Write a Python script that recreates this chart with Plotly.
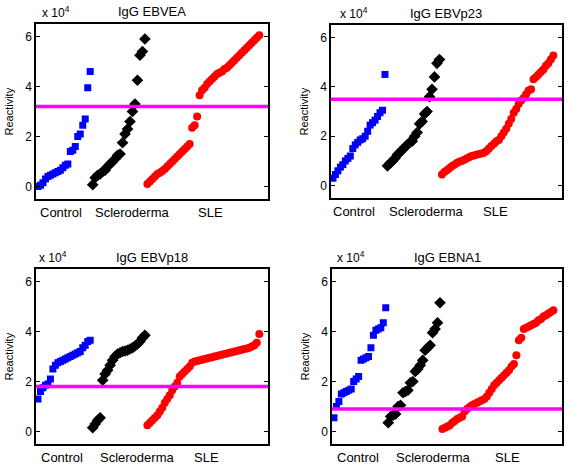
import plotly.graph_objects as go

# ---- data (values in units of 10^4) ----
titles = ["IgG EBVEA", "IgG EBVp23", "IgG EBVp18", "IgG EBNA1"]
groups = ["Control", "Scleroderma", "SLE"]
y_ticks = [0, 2, 4, 6]

control_ebvea = [0.0, 0.05, 0.15, 0.3, 0.4, 0.45, 0.5, 0.55, 0.6, 0.65, 0.75, 0.85, 0.9,
                 1.4, 1.45, 1.6, 2.0, 2.1, 2.45, 2.7, 3.95, 4.6]
sclero_ebvea = [0.07, 0.35, 0.45, 0.5, 0.6, 0.65, 0.8, 0.9, 1.0, 1.1, 1.25, 1.3, 1.75,
                2.1, 2.3, 2.6, 3.0, 3.3, 4.25, 5.25, 5.4, 5.9]
sle_ebvea = [0.1, 0.2, 0.3, 0.4, 0.5, 0.55, 0.62, 0.7, 0.8, 0.9, 1.0, 1.1, 1.2, 1.3, 1.4,
             1.5, 1.6, 1.7, 2.35, 2.45, 2.8, 3.65, 3.85, 3.95, 4.1, 4.2, 4.3, 4.4, 4.5,
             4.55, 4.6, 4.7, 4.75, 4.85, 4.95, 5.05, 5.15, 5.25, 5.35, 5.45, 5.55, 5.65,
             5.75, 5.85, 5.95, 6.05]

control_ebvp23 = [0.3, 0.45, 0.6, 0.75, 0.85, 1.0, 1.1, 1.2, 1.5, 1.65, 1.75, 1.85, 1.9,
                  2.0, 2.2, 2.45, 2.55, 2.65, 2.8, 2.95, 3.05, 4.5]
sclero_ebvp23 = [0.8, 0.9, 1.0, 1.1, 1.25, 1.35, 1.45, 1.55, 1.65, 1.75, 1.8, 2.0, 2.15,
                 2.5, 2.6, 2.9, 3.0, 3.6, 3.9, 4.4, 4.95, 5.1]
sle_ebvp23 = [0.45, 0.55, 0.62, 0.7, 0.78, 0.85, 0.92, 0.97, 1.0, 1.05, 1.1, 1.15, 1.2,
              1.22, 1.25, 1.28, 1.3, 1.33, 1.4, 1.5, 1.6, 1.7, 1.8, 1.85, 2.0, 2.15, 2.3,
              2.5, 2.7, 2.95, 3.1, 3.3, 3.45, 3.55, 3.7, 3.85, 3.9, 4.3, 4.4, 4.5, 4.6,
              4.7, 4.85, 4.95, 5.1, 5.27]

control_ebvp18 = [1.3, 1.6, 1.75, 1.85, 1.9, 2.1, 2.5, 2.65, 2.75, 2.8, 2.85, 2.9, 2.95,
                  3.0, 3.05, 3.1, 3.15, 3.2, 3.35, 3.45, 3.6, 3.65]
sclero_ebvp18 = [0.15, 0.3, 0.45, 0.55, 2.05, 2.3, 2.45, 2.65, 2.85, 3.0, 3.1, 3.15, 3.2,
                 3.22, 3.25, 3.3, 3.35, 3.42, 3.5, 3.6, 3.75, 3.85]
sle_ebvp18 = [0.25, 0.35, 0.45, 0.55, 0.65, 0.8, 0.95, 1.15, 1.3, 1.45, 1.65, 1.8, 1.95,
              2.2, 2.3, 2.4, 2.5, 2.6, 2.75, 2.8, 2.82, 2.85, 2.87, 2.9, 2.92, 2.95, 2.97,
              3.0, 3.02, 3.05, 3.07, 3.1, 3.12, 3.15, 3.17, 3.2, 3.22, 3.25, 3.27, 3.3,
              3.32, 3.35, 3.4, 3.45, 3.55, 3.9]

control_ebna1 = [0.55, 1.0, 1.2, 1.5, 1.55, 1.6, 1.65, 1.7, 2.0, 2.1, 2.2, 2.85, 2.9, 2.95,
                 3.0, 3.35, 3.85, 4.05, 4.1, 4.15, 4.35, 4.95]
sclero_ebna1 = [0.35, 0.6, 0.65, 0.7, 1.0, 1.05, 1.55, 1.6, 1.65, 1.95, 2.0, 2.4, 2.5,
                2.65, 2.85, 3.25, 3.35, 3.45, 3.95, 4.1, 4.35, 5.15]
sle_ebna1 = [0.1, 0.15, 0.2, 0.25, 0.35, 0.42, 0.5, 0.55, 0.6, 0.8, 0.9, 0.98, 1.05, 1.1,
             1.15, 1.2, 1.25, 1.3, 1.4, 1.55, 1.7, 1.85, 1.95, 2.05, 2.15, 2.25, 2.35,
             2.45, 2.6, 2.7, 3.05, 3.65, 3.75, 4.1, 4.15, 4.2, 4.25, 4.3, 4.35, 4.45,
             4.5, 4.6, 4.65, 4.72, 4.78, 4.85]

thresholds = [3.2, 3.5, 1.8, 0.9]

panels = [
    (control_ebvea, sclero_ebvea, sle_ebvea),
    (control_ebvp23, sclero_ebvp23, sle_ebvp23),
    (control_ebvp18, sclero_ebvp18, sle_ebvp18),
    (control_ebna1, sclero_ebna1, sle_ebna1),
]

# ---- layout geometry ----
W, H = 568, 464
boxes = [(36, 268, 24, 199), (331, 562, 25, 198), (36, 268, 269, 444), (332, 562, 269, 444)]
label_pos = [(0.108, 0.414, 0.75), (0.10, 0.413, 0.71), (0.113, 0.437, 0.736), (0.114, 0.44, 0.762)]
exp_shift = [4, 7, 1, 3]

FONT = "Liberation Sans, Arial, Helvetica, sans-serif"
fig = go.Figure()
styles = [
    dict(color="#0000ff", symbol="square", size=7),
    dict(color="#000000", symbol="diamond", size=9),
    dict(color="#ff0000", symbol="circle", size=8),
]

annotations = []
shapes = []
for p, (ctrl, scl, sle) in enumerate(panels):
    ax = "" if p == 0 else str(p + 1)
    xs = "x" + ax
    ys = "y" + ax
    start = 1
    for g, vals in enumerate((ctrl, scl, sle)):
        xvals = list(range(start, start + len(vals)))
        start += len(vals)
        fig.add_trace(go.Scatter(x=xvals, y=vals, mode="markers", xaxis=xs, yaxis=ys,
                                 marker=dict(line=dict(width=0), opacity=1, **styles[g]),
                                 showlegend=False, hoverinfo="skip"))
    x0, x1, y0, y1 = boxes[p]
    fig.layout["xaxis" + ax] = dict(domain=[x0 / W, x1 / W], range=[0.2, 93.5],
                                    showticklabels=False, ticks="", showgrid=False,
                                    zeroline=False, showline=True, mirror=True,
                                    linecolor="black", linewidth=1.5, anchor=ys)
    fig.layout["yaxis" + ax] = dict(domain=[1 - y1 / H, 1 - y0 / H], range=[-0.5, 6.5],
                                    tickvals=y_ticks, ticks="inside", ticklen=4,
                                    tickcolor="black", tickwidth=1, mirror="allticks",
                                    showgrid=False, zeroline=False, showline=True,
                                    linecolor="black", linewidth=1.5, anchor=xs,
                                    tickfont=dict(family=FONT, size=12, color="black"))
    shapes.append(dict(type="line", xref=xs + " domain", yref=ys, x0=0, x1=1,
                       y0=thresholds[p], y1=thresholds[p],
                       line=dict(color="#ff00ff", width=3.5), layer="above"))
    annotations.append(dict(text=titles[p], xref=xs + " domain", yref=ys + " domain",
                            x=0.5, y=1, yshift=12, showarrow=False, xanchor="center",
                            yanchor="middle", font=dict(family=FONT, size=13, color="black")))
    annotations.append(dict(text="x 10<sup>4</sup>", xref=xs + " domain", yref=ys + " domain",
                            x=0, y=1, xshift=exp_shift[p], yshift=12, showarrow=False,
                            xanchor="left", yanchor="middle",
                            font=dict(family=FONT, size=12, color="black")))
    annotations.append(dict(text="Reactivity", xref=xs + " domain", yref=ys + " domain",
                            x=0, y=0.5, xshift=-28, showarrow=False, textangle=-90,
                            xanchor="center", yanchor="middle",
                            font=dict(family=FONT, size=11, color="black")))
    for g, name in enumerate(groups):
        annotations.append(dict(text=name, xref=xs + " domain", yref=ys + " domain",
                                x=label_pos[p][g], y=0, yshift=-13, showarrow=False,
                                xanchor="center", yanchor="middle",
                                font=dict(family=FONT, size=13, color="black")))

fig.update_layout(width=W, height=H, margin=dict(l=0, r=0, t=0, b=0),
                  paper_bgcolor="white", plot_bgcolor="white",
                  annotations=annotations, shapes=shapes, showlegend=False)
fig.write_html("out.html", config={"displayModeBar": False},
               post_script="document.body.style.margin='0';document.body.style.overflow='hidden';")
